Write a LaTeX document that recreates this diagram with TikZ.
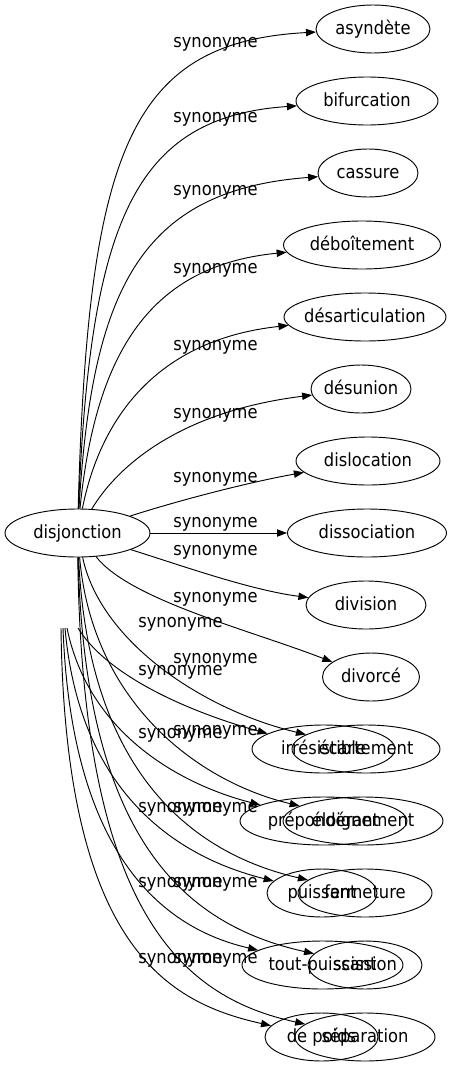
\documentclass[tikz,border=0pt]{standalone}
\usepackage{fontspec}
\setmainfont{DejaVu Sans Condensed}
\usetikzlibrary{arrows.meta,shapes.geometric}
\tikzset{
  word/.style={draw, ellipse, line width=0.7pt, inner sep=-40pt,
    minimum width=#1*0.75pt, minimum height=36pt,
    text height=10.5pt, text depth=3pt},
  syn/.style={line width=0.7pt, -{Triangle[length=7.5pt,width=5.5pt]}},
  lbl/.style={inner sep=0pt, text height=10.5pt, text depth=3pt}
}
\begin{document}
\begin{tikzpicture}[x=0.75pt,y=-0.75pt,font=\fontsize{13.6}{16}\selectfont]
  \useasboundingbox (0,0) rectangle (462,1067);

  \node[word=145] (disj) at (77.5,533) {disjonction};

  \node[word=114] (asyndete) at (373,29) {asyndète};
  \node[word=142] (bifurcation) at (367,101) {bifurcation};
  \node[word=100] (cassure) at (368,173) {cassure};
  \node[word=157] (deboitement) at (362,245) {déboîtement};
  \node[word=162] (desarticulation) at (365,317) {désarticulation};
  \node[word=100] (desunion) at (361,389) {désunion};
  \node[word=144] (dislocation) at (368,461) {dislocation};
  \node[word=159] (dissociation) at (367,533) {dissociation};
  \node[word=120] (division) at (366,605) {division};
  \node[word=97] (divorce) at (371,677) {divorcé};

  \node[word=143] (irresistible) at (323.5,749) {irrésistible};
  \node[word=148] (ecartement) at (366,749) {écartement};
  \node[word=167] (preponderant) at (323.5,821) {prépondérant};
  \node[word=160] (eloignement) at (363,821) {éloignement};
  \node[word=110] (puissant) at (322,893) {puissant};
  \node[word=134] (fermeture) at (365,893) {fermeture};
  \node[word=161] (toutpuissant) at (322.5,965) {tout-puissant};
  \node[word=114] (scission) at (365,965) {scission};
  \node[word=113] (depoids) at (321.5,1037) {de poids};
  \node[word=140] (separation) at (365,1037) {séparation};

  \coordinate (free1) at (78,628);
  \coordinate (free2) at (67,628);
  \coordinate (free3) at (65,628);
  \coordinate (free4) at (63,628);
  \coordinate (free5) at (61,628);

  % upper synonyms
  \draw[syn] (disj) .. controls (88,150) and (130,42) .. (asyndete);
  \draw[syn] (disj) .. controls (90,220) and (135,117) .. (bifurcation);
  \draw[syn] (disj) .. controls (92,290) and (140,190) .. (cassure);
  \draw[syn] (disj) .. controls (95,360) and (145,266) .. (deboitement);
  \draw[syn] (disj) .. controls (100,420) and (155,340) .. (desarticulation);
  \draw[syn] (disj) .. controls (115,470) and (175,412) .. (desunion);
  \draw[syn] (disj) .. controls (180,500) and (250,482) .. (dislocation);
  \draw[syn] (disj) -- (dissociation);
  \draw[syn] (disj) .. controls (180,565) and (250,590) .. (division);
  \draw[syn] (disj) .. controls (130,600) and (250,630) .. (divorce);

  % lower synonyms
  \draw[syn] (disj) .. controls (100,640) and (200,709) .. (ecartement);
  \draw[syn] (disj) .. controls (92,700) and (195,781) .. (eloignement);
  \draw[syn] (disj) .. controls (88,770) and (190,853) .. (fermeture);
  \draw[syn] (disj) .. controls (85,840) and (185,925) .. (scission);
  \draw[syn] (disj) .. controls (82,910) and (180,997) .. (separation);

  \draw[syn] (free1) .. controls (110,680) and (200,715) .. (irresistible);
  \draw[syn] (free2) .. controls (90,740) and (190,787) .. (preponderant);
  \draw[syn] (free3) .. controls (80,800) and (185,859) .. (puissant);
  \draw[syn] (free4) .. controls (72,870) and (175,931) .. (toutpuissant);
  \draw[syn] (free5) .. controls (65,950) and (170,1003) .. (depoids);

  \foreach \y [count=\i] in {42,117,190,268,345,413,477,522,550,597,658,730,807,882,958}
    \node[lbl] (synr\i) at (215.5,\y) {synonyme};
  \foreach \y [count=\i] in {622,670,733,807,882,958}
    \node[lbl] (synl\i) at (180.5,\y) {synonyme};
\end{tikzpicture}
\end{document}
